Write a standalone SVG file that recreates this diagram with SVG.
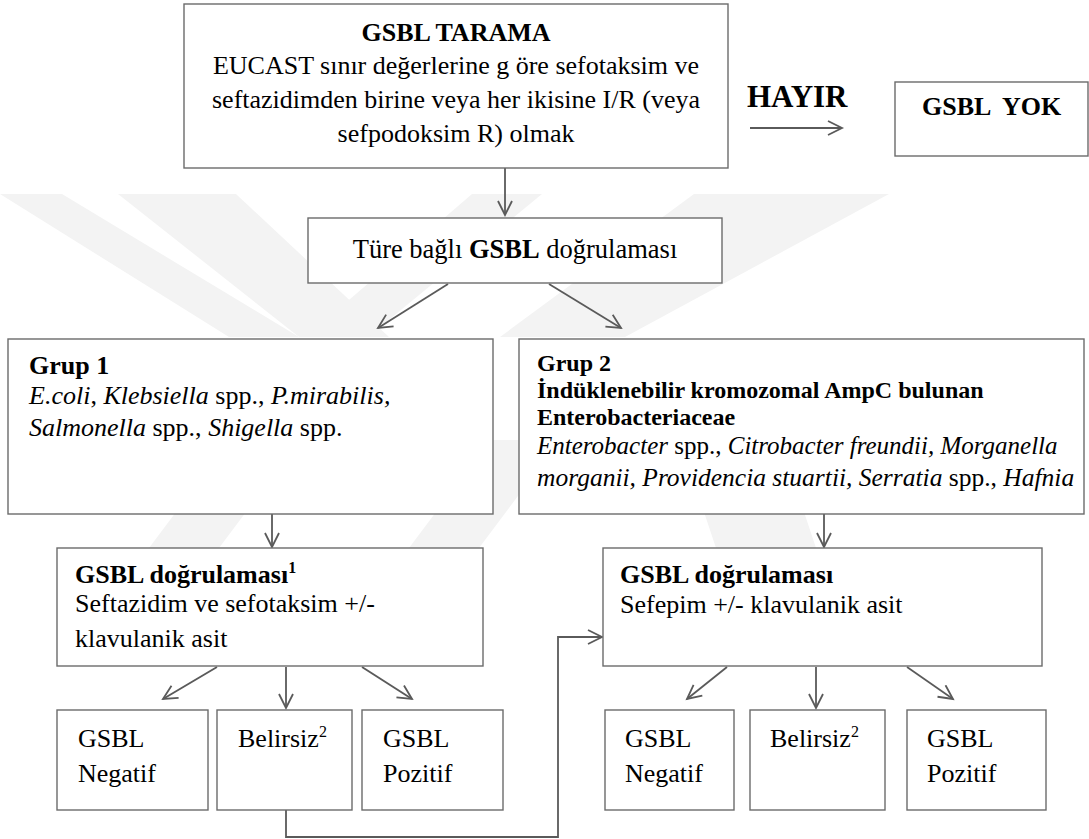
<svg xmlns="http://www.w3.org/2000/svg" width="1089" height="839" viewBox="0 0 1089 839">
<style>
text{font-family:"Liberation Serif","Times New Roman",serif;font-size:26px;fill:#000}
.b{font-weight:bold}
.i{font-style:italic}
.g2{font-size:24px}
.box{fill:#fff;stroke:#6b6b6b;stroke-width:1.4}
.c{fill:none;stroke:#5a5a5a;stroke-width:1.8}
.wm{fill:#f3f3f3}
.sup{font-size:16px}
</style>
<defs>
<marker id="ah" markerUnits="userSpaceOnUse" markerWidth="20" markerHeight="20" refX="15" refY="8" orient="auto">
<path d="M1,1 L15,8 L1,15" fill="none" stroke="#5a5a5a" stroke-width="1.8"/>
</marker>
</defs>
<rect width="1089" height="839" fill="#fff"/>
<g id="watermark">
<polygon class="wm" points="0,194 62,194 299,337 229,337"/>
<polygon class="wm" points="118,194 236,194 389,337 299,337"/>
<polygon class="wm" points="306,337 368,337 542,194 472,194"/>
<polygon class="wm" points="500,337 625,337 889,194 694,194"/>
<polygon class="wm" points="230,440 300,440 210,560 140,560"/>
<polygon class="wm" points="490,440 560,440 470,560 400,560"/>
<polygon class="wm" points="680,440 780,440 820,560 720,560"/>
</g>
<g id="connectors">
<line class="c" x1="505" y1="168" x2="505" y2="215" marker-end="url(#ah)"/>
<line class="c" x1="750" y1="128" x2="842" y2="128" marker-end="url(#ah)"/>
<line class="c" x1="448" y1="284" x2="378" y2="328" marker-end="url(#ah)"/>
<line class="c" x1="549" y1="284" x2="621" y2="328" marker-end="url(#ah)"/>
<line class="c" x1="272" y1="514" x2="272" y2="547" marker-end="url(#ah)"/>
<line class="c" x1="824" y1="514" x2="824" y2="547" marker-end="url(#ah)"/>
<line class="c" x1="217" y1="667" x2="163" y2="699" marker-end="url(#ah)"/>
<line class="c" x1="286" y1="667" x2="286" y2="708" marker-end="url(#ah)"/>
<line class="c" x1="362" y1="667" x2="412" y2="699" marker-end="url(#ah)"/>
<line class="c" x1="727" y1="667" x2="687" y2="699" marker-end="url(#ah)"/>
<line class="c" x1="816" y1="667" x2="816" y2="708" marker-end="url(#ah)"/>
<line class="c" x1="907" y1="667" x2="953" y2="699" marker-end="url(#ah)"/>
<polyline class="c" points="286,810 286,837 558,837 558,637 602,637" marker-end="url(#ah)"/>
</g>
<g id="n-tarama">
<rect class="box" x="184" y="4" width="544" height="164"/>
<text class="b" x="456" y="41" text-anchor="middle">GSBL TARAMA</text>
<text x="456" y="74" text-anchor="middle">EUCAST sınır değerlerine g öre sefotaksim ve</text>
<text x="456" y="108" text-anchor="middle">seftazidimden birine veya her ikisine I/R (veya</text>
<text x="456" y="142" text-anchor="middle">sefpodoksim R) olmak</text>
</g>
<g id="n-hayir">
<text class="b" x="747" y="107" style="font-size:31px">HAYIR</text>
</g>
<g id="n-yok">
<rect class="box" x="895" y="82" width="193" height="74"/>
<text class="b" x="922" y="115" xml:space="preserve">GSBL  YOK</text>
</g>
<g id="n-ture">
<rect class="box" x="308" y="218" width="414" height="65"/>
<text x="515" y="258" text-anchor="middle" style="font-size:26.5px">Türe bağlı <tspan class="b">GSBL</tspan> doğrulaması</text>
</g>
<g id="n-grup1">
<rect class="box" x="8" y="339" width="485" height="175"/>
<text class="b" x="29" y="374">Grup 1</text>
<text x="29" y="404"><tspan class="i">E.coli</tspan>, <tspan class="i">Klebsiella</tspan> spp., <tspan class="i">P.mirabilis,</tspan></text>
<text x="29" y="436"><tspan class="i">Salmonella</tspan> spp., <tspan class="i">Shigella</tspan> spp.</text>
</g>
<g id="n-grup2">
<rect class="box" x="519" y="339" width="565" height="175"/>
<text class="b g2" x="537" y="371">Grup 2</text>
<text class="b g2" x="537" y="398">İndüklenebilir kromozomal AmpC bulunan</text>
<text class="b g2" x="537" y="425">Enterobacteriaceae</text>
<text class="g2" x="537" y="454" style="font-size:25px"><tspan class="i">Enterobacter</tspan> spp., <tspan class="i">Citrobacter freundii, Morganella</tspan></text>
<text class="g2" x="537" y="486" style="font-size:25.5px"><tspan class="i">morganii, Providencia stuartii, Serratia</tspan> spp., <tspan class="i">Hafnia</tspan></text>
</g>
<g id="n-dog1">
<rect class="box" x="57" y="548" width="426" height="118"/>
<text class="b" x="75" y="583">GSBL doğrulaması<tspan class="sup" dy="-10">1</tspan></text>
<text x="75" y="612">Seftazidim ve sefotaksim +/-</text>
<text x="75" y="647">klavulanik asit</text>
</g>
<g id="n-dog2">
<rect class="box" x="603" y="548" width="439" height="118"/>
<text class="b" x="620" y="583">GSBL doğrulaması</text>
<text x="620" y="613">Sefepim +/- klavulanik asit</text>
</g>
<g id="n-neg1">
<rect class="box" x="57" y="710" width="151" height="100"/>
<text x="78" y="747">GSBL</text>
<text x="78" y="782">Negatif</text>
</g>
<g id="n-bel1">
<rect class="box" x="217" y="710" width="135" height="100"/>
<text x="238" y="747">Belirsiz<tspan class="sup" dy="-10">2</tspan></text>
</g>
<g id="n-poz1">
<rect class="box" x="362" y="710" width="141" height="100"/>
<text x="383" y="747">GSBL</text>
<text x="383" y="782">Pozitif</text>
</g>
<g id="n-neg2">
<rect class="box" x="605" y="710" width="129" height="100"/>
<text x="625" y="747">GSBL</text>
<text x="625" y="782">Negatif</text>
</g>
<g id="n-bel2">
<rect class="box" x="750" y="710" width="135" height="100"/>
<text x="770" y="747">Belirsiz<tspan class="sup" dy="-10">2</tspan></text>
</g>
<g id="n-poz2">
<rect class="box" x="907" y="710" width="139" height="100"/>
<text x="927" y="747">GSBL</text>
<text x="927" y="782">Pozitif</text>
</g>
</svg>
